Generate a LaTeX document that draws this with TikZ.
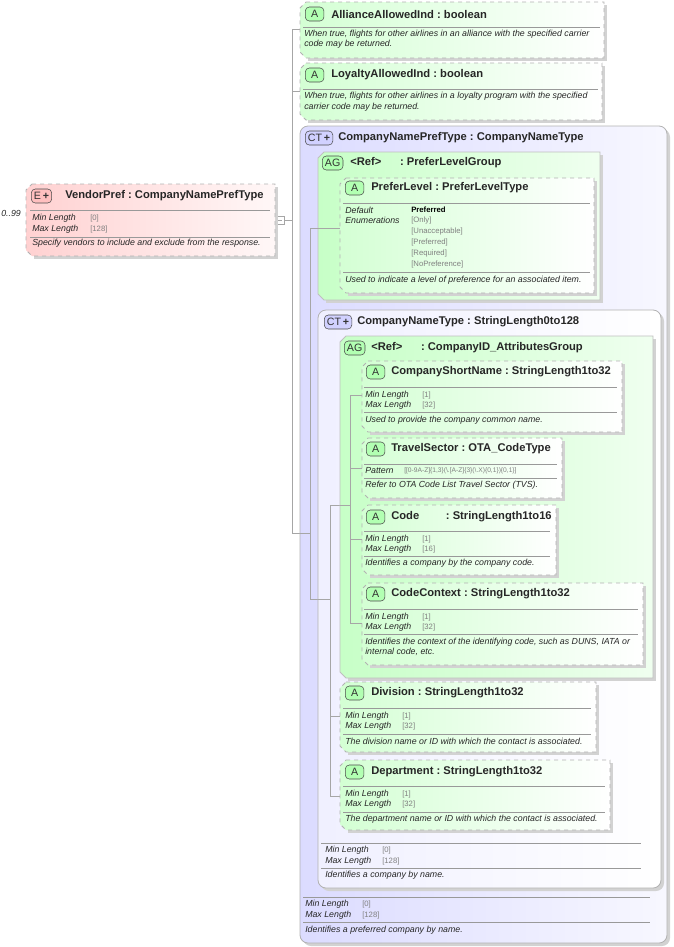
\documentclass[tikz,border=0pt]{standalone}
\usepackage{fontspec}
\setmainfont{Liberation Sans}
\usetikzlibrary{shadows}
\tikzset{x=0.75pt,y=-0.75pt,
 ttl/.style={anchor=west,inner sep=0,font=\fontsize{8.4}{9}\selectfont\bfseries,text=black!85},
 sm/.style={anchor=west,inner sep=0,font=\fontsize{6.6}{7}\selectfont\itshape,text=black!85},
 val/.style={anchor=west,inner sep=0,font=\fontsize{5.8}{7}\selectfont,text=gray},
 badge/.style={draw=black!70,rounded corners=3pt,inner xsep=2pt,inner ysep=1pt,minimum height=10.5pt,minimum width=14pt,font=\fontsize{8}{9}\selectfont,text=black!80,anchor=west},
 rule/.style={draw=gray!80,line width=0.6pt},
 conn/.style={draw=gray!70,line width=0.5pt},
 attrf/.style={draw=gray!60,dashed,line width=0.6pt,left color=green!17,right color=white},
 agf/.style={draw=gray!50,line width=0.6pt,left color=green!22,right color=green!6},
 ctf/.style={draw=gray!60,line width=0.6pt,rounded corners=6pt,left color=blue!14,right color=blue!3},
 elf/.style={draw=gray!60,dashed,line width=0.6pt,left color=red!18,right color=red!3},
 shd/.style={fill=gray!35,draw=none}}
\newcommand\cbox[5]{%
 \path[shd] ({#1+8},{#2+3}) -- ({#3+3},{#2+3}) -- ({#3+3},{#4+3}) -- ({#1+8},{#4+3}) -- cycle;
 \path[#5] ({#1+6},#2) -- (#3,#2) -- (#3,#4) -- ({#1+6},#4) -- (#1,{#4-6}) -- (#1,{#2+6}) -- cycle;}
\newcommand\cl{\ :\ }
\begin{document}
\begin{tikzpicture}
\useasboundingbox (0,0) rectangle (674,947);
% connectors
\draw[conn] (275,220) -- (292,220);
\draw[conn,fill=white] (276,216) rectangle (284,224);
\draw[conn] (278,220) -- (282,220);
\coordinate (seq0) at (292,220);
\draw[conn] (292,29) -- (292,533) -- (300,533);
\draw[conn] (292,29) -- (300,29);
\draw[conn] (292,91) -- (300,91);
% Alliance
\cbox{300}{2}{604}{58}{attrf}
\node[badge,fill=green!30] (b1) at (305,14) {A};
\node[ttl] (t1) at (331,14) {AllianceAllowedInd\cl boolean};
\draw[rule] (303,27) -- (600,27);
\node[sm] at (304,34) {When true, flights for other airlines in an alliance with the specified carrier};
\node[sm] at (304,44) {code may be returned.};
% Loyalty
\cbox{300}{63}{602}{120}{attrf}
\node[badge,fill=green!30] at (305,75) {A};
\node[ttl] at (331,75) {LoyaltyAllowedInd\cl boolean};
\draw[rule] (303,89) -- (598,89);
\node[sm] at (304,96) {When true, flights for other airlines in a loyalty program with the specified};
\node[sm] at (304,107) {carrier code may be returned.};
% VendorPref
\cbox{26}{184}{275}{256}{elf}
\node[badge,fill=red!25] at (31,196) {E\,\textbf{+}};
\node[ttl] at (65,196) {VendorPref\cl CompanyNamePrefType};
\draw[rule] (30,210) -- (270,210);
\node[sm] at (32,218) {Min Length}; \node[val] at (90,218) {[0]};
\node[sm] at (32,229) {Max Length}; \node[val] at (90,229) {[128]};
\draw[rule] (30,237) -- (270,237);
\node[sm] at (32,243) {Specify vendors to include and exclude from the response.};
\node[sm] at (1,213) {0..99};
% CT CompanyNamePrefType
\path[shd,rounded corners=6pt] (303,129) rectangle (670,946);
\path[ctf] (300,126) rectangle (667,943);
\node[badge,fill=blue!18] at (305,138) {CT\,\textbf{+}};
\node[ttl] at (338,138) {CompanyNamePrefType\cl CompanyNameType};
\draw[rule] (303,897) -- (650,897);
\node[sm] at (305,904) {Min Length}; \node[val] at (362,904) {[0]};
\node[sm] at (305,915) {Max Length}; \node[val] at (362,915) {[128]};
\draw[rule] (303,922) -- (650,922);
\node[sm] at (305,930) {Identifies a preferred company by name.};
\draw[conn] (300,533) -- (310,533);
\draw[conn] (310,228) -- (310,599);
% AG PreferLevelGroup
\cbox{318}{152}{600}{300}{agf}
\node[badge,fill=green!30] at (322,163) {AG};
\node[ttl] at (350,163) {<Ref>\hspace{14pt}:\ PreferLevelGroup};
\draw[conn] (310,228) -- (340,228);
\cbox{340}{178}{594}{293}{attrf}
\node[badge,fill=green!30] at (345,188) {A};
\node[ttl] at (371,188) {PreferLevel\cl PreferLevelType};
\draw[rule] (343,203) -- (590,203);
\node[sm] at (345,210) {Default}; \node[sm] at (345,220) {Enumerations};
\node[anchor=west,inner sep=0,font=\fontsize{5.8}{7}\selectfont\bfseries] at (411,210) {Preferred};
\node[val] at (411,220) {[Only]};
\node[val] at (411,231) {[Unacceptable]};
\node[val] at (411,242) {[Preferred]};
\node[val] at (411,253) {[Required]};
\node[val] at (411,264) {[NoPreference]};
\draw[rule] (343,272) -- (590,272);
\node[sm] at (345,280) {Used to indicate a level of preference for an associated item.};
% CT CompanyNameType
\draw[conn] (310,599) -- (318,599);
\path[shd,rounded corners=6pt] (321,313) rectangle (664,891);
\path[ctf,left color=blue!6,right color=white] (318,310) rectangle (661,888);
\node[badge,fill=blue!18] at (324,322) {CT\,\textbf{+}};
\node[ttl] at (357,322) {CompanyNameType\cl StringLength0to128};
\draw[rule] (321,843) -- (641,843);
\node[sm] at (325,850) {Min Length}; \node[val] at (382,850) {[0]};
\node[sm] at (325,861) {Max Length}; \node[val] at (382,861) {[128]};
\draw[rule] (321,868) -- (641,868);
\node[sm] at (325,875) {Identifies a company by name.};
\draw[conn] (318,599) -- (330,599);
\draw[conn] (330,505) -- (330,796);
\draw[conn] (330,505) -- (340,505);
\draw[conn] (330,716) -- (340,716);
\draw[conn] (330,796) -- (340,796);
% AG CompanyID
\cbox{340}{336}{653}{678}{agf}
\node[badge,fill=green!30] at (344,348) {AG};
\node[ttl] at (371,348) {<Ref>\hspace{14pt}:\ CompanyID\_AttributesGroup};
\draw[conn] (340,505) -- (350,505);
\draw[conn] (350,395) -- (350,623);
\foreach \yy in {395,468,539,623} \draw[conn] (350,\yy) -- (362,\yy);
% CompanyShortName
\cbox{362}{361}{622}{432}{attrf}
\node[badge,fill=green!30] at (366,372) {A};
\node[ttl] at (391,372) {CompanyShortName\cl StringLength1to32};
\draw[rule] (364,387) -- (617,387);
\node[sm] at (365,395) {Min Length}; \node[val] at (422,395) {[1]};
\node[sm] at (365,405) {Max Length}; \node[val] at (422,405) {[32]};
\draw[rule] (364,412) -- (617,412);
\node[sm] at (365,420) {Used to provide the company common name.};
% TravelSector
\cbox{362}{438}{562}{498}{attrf}
\node[badge,fill=green!30] at (366,449) {A};
\node[ttl] at (391,449) {TravelSector\cl OTA\_CodeType};
\draw[rule] (364,464) -- (557,464);
\node[sm] at (365,471) {Pattern};
\node[val,font=\fontsize{5}{6}\selectfont] at (404,471) {[[0-9A-Z]\{1,3\}(\textbackslash.[A-Z]\{3\}(\textbackslash.X)\{0,1\})\{0,1\}]};
\draw[rule] (364,478) -- (557,478);
\node[sm] at (365,485) {Refer to OTA Code List Travel Sector (TVS).};
% Code
\cbox{362}{505}{556}{575}{attrf}
\node[badge,fill=green!30] at (366,517) {A};
\node[ttl] at (391,517) {Code\hspace{20pt}:\ StringLength1to16};
\draw[rule] (364,531) -- (550,531);
\node[sm] at (365,539) {Min Length}; \node[val] at (422,539) {[1]};
\node[sm] at (365,549) {Max Length}; \node[val] at (422,549) {[16]};
\draw[rule] (364,556) -- (550,556);
\node[sm] at (365,563) {Identifies a company by the company code.};
% CodeContext
\cbox{362}{583}{643}{665}{attrf}
\node[badge,fill=green!30] at (366,594) {A};
\node[ttl] at (391,594) {CodeContext\cl StringLength1to32};
\draw[rule] (364,609) -- (638,609);
\node[sm] at (365,617) {Min Length}; \node[val] at (422,617) {[1]};
\node[sm] at (365,627) {Max Length}; \node[val] at (422,627) {[32]};
\draw[rule] (364,634) -- (638,634);
\node[sm] at (365,642) {Identifies the context of the identifying code, such as DUNS, IATA or};
\node[sm] at (365,652) {internal code, etc.};
% Division
\cbox{340}{682}{596}{752}{attrf}
\node[badge,fill=green!30] at (345,693) {A};
\node[ttl] at (371,693) {Division\cl StringLength1to32};
\draw[rule] (343,708) -- (591,708);
\node[sm] at (345,716) {Min Length}; \node[val] at (402,716) {[1]};
\node[sm] at (345,726) {Max Length}; \node[val] at (402,726) {[32]};
\draw[rule] (343,734) -- (591,734);
\node[sm] at (345,741) {The division name or ID with which the contact is associated.};
% Department
\cbox{340}{760}{610}{830}{attrf}
\node[badge,fill=green!30] at (345,772) {A};
\node[ttl] at (371,772) {Department\cl StringLength1to32};
\draw[rule] (343,786) -- (605,786);
\node[sm] at (345,794) {Min Length}; \node[val] at (402,794) {[1]};
\node[sm] at (345,804) {Max Length}; \node[val] at (402,804) {[32]};
\draw[rule] (343,812) -- (605,812);
\node[sm] at (345,819) {The department name or ID with which the contact is associated.};
\end{tikzpicture}
\end{document}
